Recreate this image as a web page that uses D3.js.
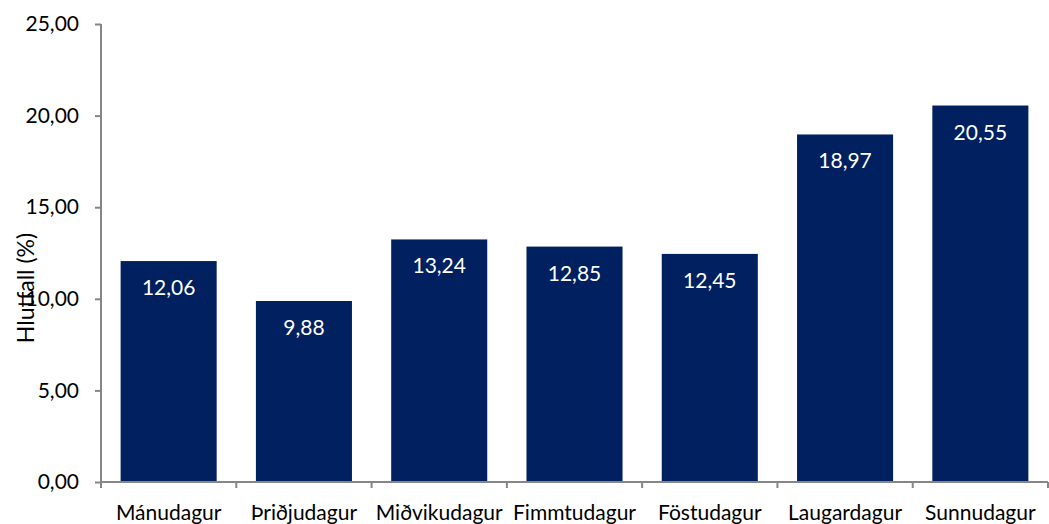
<!DOCTYPE html>
<html><head><meta charset="utf-8">
<script src="https://cdn.jsdelivr.net/npm/d3@7"></script>
<style>body{margin:0;background:#fff}svg{display:block}text{font-family:Lato,"Open Sans",sans-serif}</style>
</head><body><svg id="c" width="1049" height="524"></svg>
<script>
const categories = ["Mánudagur","Þriðjudagur","Miðvikudagur","Fimmtudagur","Föstudagur","Laugardagur","Sunnudagur"];
const values = [12.06, 9.88, 13.24, 12.85, 12.45, 18.97, 20.55];
const yTicks = [0, 5, 10, 15, 20, 25];
const yTitle = "Hlutfall (%)";

const svg = d3.select("#c");
const fmt = v => v.toFixed(2).replace(".", ",");
const x = d3.scaleBand().domain(categories).range([101, 1048]).paddingInner(0.29).paddingOuter(0.145);
const y = d3.scaleLinear().domain([0, 25]).range([482, 24]);
const axisColor = "#868686";
const fs = 21;

svg.append("g").selectAll("rect").data(values).join("rect")
  .attr("x", (d,i) => x(categories[i])).attr("width", x.bandwidth())
  .attr("y", d => y(d)).attr("height", d => y(0) - y(d)).attr("fill", "#002060");

svg.append("g").selectAll("text").data(values).join("text")
  .attr("x", (d,i) => x(categories[i]) + x.bandwidth()/2)
  .attr("y", d => y(d) + 34).attr("text-anchor", "middle")
  .attr("fill", "#fff").attr("font-size", fs).text(d => fmt(d));

const ya = svg.append("g").attr("transform", "translate(101,0)")
  .call(d3.axisLeft(y).tickValues(yTicks).tickFormat(fmt).tickSize(6).tickPadding(16));
const xa = svg.append("g").attr("transform", "translate(0,482)")
  .call(d3.axisBottom(x).tickSize(0).tickPadding(23));
const bounds = categories.map(c => x(c) - x.step()*x.paddingInner()/2).concat([1048]);
xa.selectAll(".bt").data(bounds).join("line").attr("class","bt")
  .attr("x1", d => d).attr("x2", d => d).attr("y1", 0).attr("y2", 6).attr("stroke", axisColor).attr("stroke-width", 2);
[ya, xa].forEach(a => {
  a.selectAll(".domain").attr("stroke", axisColor).attr("stroke-width", 2);
  a.selectAll(".tick line").attr("stroke", axisColor).attr("stroke-width", 2);
  a.selectAll("text").attr("fill", "#000").attr("font-size", fs).attr("font-family", "Lato, 'Open Sans', sans-serif");
});
xa.select(".domain").attr("d", "M101,0H1048");
ya.select(".domain").attr("d", "M0,24V482");

svg.append("text").attr("transform", "translate(34,288) rotate(-90)")
  .attr("text-anchor", "middle").attr("font-size", 23).attr("fill", "#000").text(yTitle);
</script></body></html>
